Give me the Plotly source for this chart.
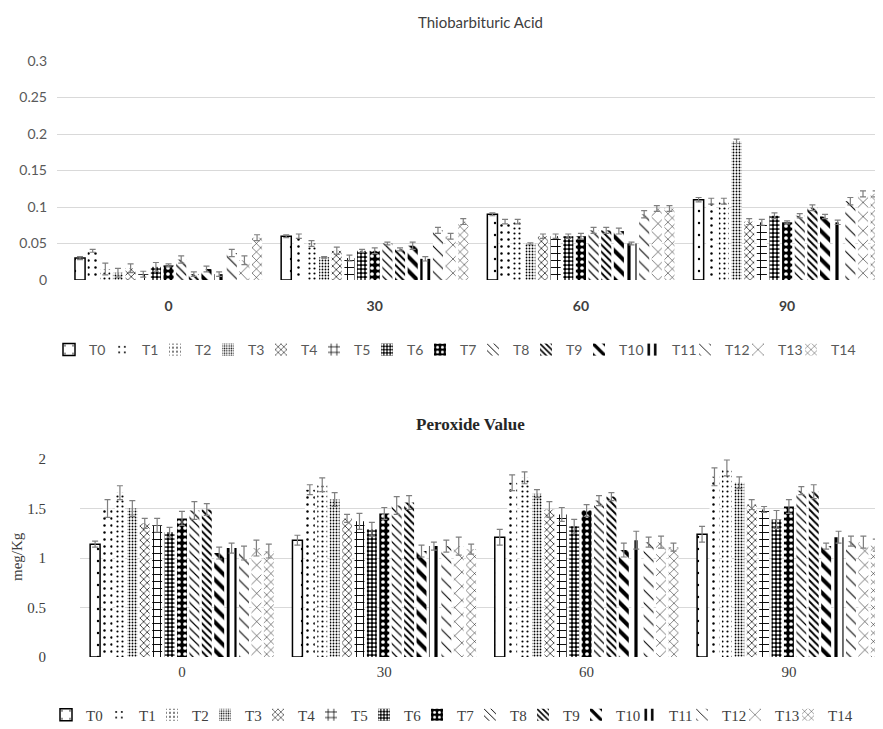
import plotly.graph_objects as go

days = ["0", "30", "60", "90"]
treatments = ["T0", "T1", "T2", "T3", "T4", "T5", "T6", "T7",
              "T8", "T9", "T10", "T11", "T12", "T13", "T14"]

# Thiobarbituric acid (one list per treatment, over days 0/30/60/90)
tba_means = [
    [0.030, 0.060, 0.090, 0.110],
    [0.040, 0.060, 0.080, 0.108],
    [0.015, 0.050, 0.080, 0.108],
    [0.010, 0.031, 0.050, 0.190],
    [0.016, 0.040, 0.060, 0.080],
    [0.008, 0.030, 0.060, 0.079],
    [0.018, 0.040, 0.060, 0.088],
    [0.020, 0.040, 0.060, 0.079],
    [0.028, 0.050, 0.068, 0.088],
    [0.008, 0.042, 0.068, 0.099],
    [0.015, 0.047, 0.067, 0.087],
    [0.008, 0.029, 0.050, 0.079],
    [0.037, 0.068, 0.090, 0.108],
    [0.027, 0.060, 0.098, 0.118],
    [0.058, 0.080, 0.098, 0.118],
]
tba_err = [
    [0.002, 0.002, 0.002, 0.003],
    [0.002, 0.003, 0.003, 0.004],
    [0.008, 0.004, 0.003, 0.004],
    [0.006, 0.001, 0.001, 0.003],
    [0.006, 0.005, 0.003, 0.004],
    [0.004, 0.004, 0.003, 0.004],
    [0.006, 0.002, 0.003, 0.004],
    [0.002, 0.004, 0.004, 0.002],
    [0.005, 0.002, 0.004, 0.003],
    [0.003, 0.002, 0.004, 0.004],
    [0.004, 0.005, 0.004, 0.003],
    [0.003, 0.003, 0.002, 0.003],
    [0.005, 0.004, 0.005, 0.005],
    [0.006, 0.004, 0.004, 0.004],
    [0.004, 0.004, 0.004, 0.004],
]

# Peroxide value (meg/Kg)
pv_means = [
    [1.14, 1.18, 1.21, 1.24],
    [1.50, 1.69, 1.76, 1.82],
    [1.66, 1.74, 1.81, 1.91],
    [1.50, 1.59, 1.65, 1.76],
    [1.35, 1.40, 1.49, 1.54],
    [1.33, 1.37, 1.44, 1.49],
    [1.26, 1.29, 1.32, 1.39],
    [1.40, 1.45, 1.48, 1.52],
    [1.48, 1.53, 1.58, 1.68],
    [1.49, 1.56, 1.62, 1.67],
    [1.05, 1.07, 1.08, 1.12],
    [1.10, 1.12, 1.18, 1.21],
    [1.05, 1.12, 1.16, 1.17],
    [1.10, 1.12, 1.16, 1.16],
    [1.07, 1.09, 1.11, 1.13],
]
pv_err = [
    [0.03, 0.05, 0.08, 0.08],
    [0.09, 0.05, 0.08, 0.09],
    [0.07, 0.07, 0.06, 0.08],
    [0.08, 0.07, 0.04, 0.06],
    [0.05, 0.04, 0.08, 0.05],
    [0.07, 0.08, 0.07, 0.03],
    [0.05, 0.07, 0.07, 0.09],
    [0.07, 0.06, 0.06, 0.07],
    [0.09, 0.09, 0.05, 0.04],
    [0.06, 0.07, 0.04, 0.07],
    [0.06, 0.06, 0.07, 0.03],
    [0.05, 0.04, 0.09, 0.06],
    [0.07, 0.06, 0.05, 0.05],
    [0.08, 0.09, 0.06, 0.06],
    [0.07, 0.05, 0.04, 0.06],
]

# pattern styles: (shape, size, solidity, fg, bg, outline width)
styles = [
    (".", 12, 0.03, "black", "white", 1.5),
    (".", 7, 0.10, "black", "white", 0),
    (".", 5, 0.15, "black", "white", 0),
    (".", 3, 0.30, "black", "white", 0),
    ("x", 5, 0.25, "black", "white", 0),
    ("+", 7, 0.25, "black", "white", 0),
    (".", 4, 0.45, "white", "black", 0),
    (".", 6, 0.30, "white", "black", 0),
    ("\\", 6, 0.20, "black", "white", 0),
    ("\\", 5, 0.40, "black", "white", 0),
    ("\\", 10, 0.40, "black", "white", 0),
    ("|", 8, 0.40, "black", "white", 0),
    ("\\", 9, 0.12, "black", "white", 0),
    ("x", 10, 0.10, "black", "white", 0),
    ("x", 6, 0.15, "black", "white", 0),
]


def make_marker(i):
    shp, sz, sol, fg, bg, lw = styles[i]
    return dict(
        color=bg,
        line=dict(color="black", width=lw),
        pattern=dict(shape=shp, size=sz, solidity=sol, fgcolor=fg,
                     bgcolor=bg, fillmode="replace"),
    )


fig = go.Figure()

last = len(treatments) - 1

for i, name in enumerate(treatments):
    extra = dict(legendwidth=30) if i == last else {}
    fig.add_trace(go.Bar(
        x=days, y=tba_means[i], name=name, marker=make_marker(i),
        error_y=dict(type="data", array=tba_err[i], color="#7f7f7f",
                     thickness=1.2, width=3),
        xaxis="x", yaxis="y", legend="legend", **extra,
    ))

for i, name in enumerate(treatments):
    extra = dict(legendwidth=30) if i == last else {}
    fig.add_trace(go.Bar(
        x=days, y=pv_means[i], name=name, marker=make_marker(i),
        error_y=dict(type="data", array=pv_err[i], color="#7f7f7f",
                     thickness=1.2, width=3),
        xaxis="x2", yaxis="y2", legend="legend2", **extra,
    ))

H = 729.0
W = 883.0

fig.update_layout(
    width=883, height=729,
    margin=dict(l=0, r=0, t=0, b=0, autoexpand=False),
    paper_bgcolor="white", plot_bgcolor="white",
    barmode="group", bargap=0.08, bargroupgap=0.2,
    font=dict(family="Lato", size=14, color="#595959"),
    xaxis=dict(domain=[49 / W, 875 / W], anchor="y", type="category",
               range=[-0.541, 3.465], showgrid=False, zeroline=False,
               showline=False, ticks="",
               tickfont=dict(family="Lato", size=14, color="#404040", weight="bold"),
               ticklabelstandoff=16),
    yaxis=dict(domain=[1 - 272 / H, 1 - 53 / H], anchor="x",
               range=[0, 0.3], dtick=0.05, showgrid=True,
               gridcolor="#d9d9d9", gridwidth=1, zeroline=False,
               showline=False, ticks="",
               tickfont=dict(family="Lato", size=14, color="#595959"),
               ticklabelstandoff=9),
    xaxis2=dict(domain=[72 / W, 875 / W], anchor="y2", type="category",
                range=[-0.504, 3.465], showgrid=False, zeroline=False,
                showline=False, ticks="",
                tickfont=dict(family="Liberation Serif", size=15, color="#404040"),
                ticklabelstandoff=4),
    yaxis2=dict(domain=[1 - 649 / H, 1 - 451 / H], anchor="x2",
                range=[0, 2], dtick=0.5, showgrid=True,
                gridcolor="#d9d9d9", gridwidth=1, zeroline=False,
                showline=False, ticks="",
                tickfont=dict(family="Liberation Serif", size=15, color="#404040"),
                ticklabelstandoff=33),
    legend=dict(orientation="h", x=41 / W, xanchor="left",
                y=1 - 342 / H, yanchor="middle",
                font=dict(family="Lato", size=14, color="#595959"),
                entrywidth=8, entrywidthmode="pixels", itemwidth=30,
                bgcolor="rgba(0,0,0,0)"),
    legend2=dict(orientation="h", x=38 / W, xanchor="left",
                 y=1 - 707 / H, yanchor="middle",
                 font=dict(family="Liberation Serif", size=15, color="#404040"),
                 entrywidth=8, entrywidthmode="pixels", itemwidth=30,
                 bgcolor="rgba(0,0,0,0)"),
    annotations=[
        dict(text="Thiobarbituric Acid", x=472 / W, y=1 - 14 / H,
             xref="paper", yref="paper", showarrow=False,
             xanchor="center", yanchor="middle",
             font=dict(family="Lato", size=15, color="#404040")),
        dict(text="<b>Peroxide Value</b>", x=462 / W, y=1 - 417 / H,
             xref="paper", yref="paper", showarrow=False,
             xanchor="center", yanchor="middle",
             font=dict(family="Liberation Serif", size=17, color="#262626")),
        dict(text="meg/Kg", x=9 / W, y=1 - 549 / H,
             xref="paper", yref="paper", showarrow=False, textangle=-90,
             xanchor="center", yanchor="middle",
             font=dict(family="Liberation Serif", size=15, color="#404040")),
    ],
)

fig.write_html("out.html")
